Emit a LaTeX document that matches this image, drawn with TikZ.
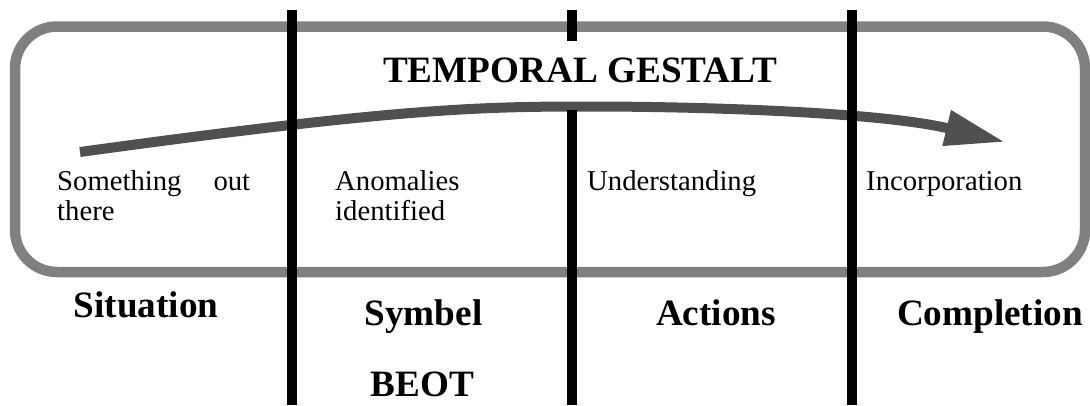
\documentclass[tikz,border=0pt]{standalone}
\usepackage{fontspec}
\setmainfont{Liberation Serif}
\usetikzlibrary{arrows.meta}
\definecolor{framegray}{HTML}{808080}
\definecolor{arrowgray}{HTML}{505050}
\tikzset{
  frame/.style={draw=framegray, line width=10.5pt, rounded corners=42pt},
  divider/.style={draw=black, line width=10.5pt},
  flow/.style={draw=arrowgray, line width=10pt, -{Triangle[length=60pt,width=34pt]}},
  smalltext/.style={anchor=base west, inner sep=0pt, font=\fontsize{28.7}{30}\selectfont},
  bigtext/.style={anchor=base, inner sep=0pt, font=\fontsize{37.2}{40}\selectfont\bfseries},
}
\begin{document}
\begin{tikzpicture}[x=1pt,y=-1pt]
\useasboundingbox (0,0) rectangle (1090,405);
% frame
\draw[frame] (15,26.5) rectangle (1085,272);
% arrow
\coordinate (a0) at (80,152);
\coordinate (a1) at (590,106.5);
\coordinate (a2) at (1005,142);
\draw[flow] (a0) .. controls (400,108) and (480,106.5) .. (a1)
   .. controls (700,106.5) and (880,112) .. (a2);
% dividers
\draw[divider] (292,10) -- (292,405);
\draw[divider] (572,10) -- (572,41);
\draw[divider] (572,110) -- (572,405);
\draw[divider] (852,10) -- (852,405);
% title
\node[bigtext] (title) at (580,82) {TEMPORAL GESTALT};
% inner texts
\node[smalltext] (t1) at (57,190) {\parbox[t]{193pt}{\fontsize{28.7}{30}\selectfont Something\hfill out\\there}};
\node[smalltext] (t2) at (335,190) {\parbox[t]{200pt}{\fontsize{28.7}{30}\selectfont Anomalies\\identified}};
\node[smalltext] (t3) at (587,190) {Understanding};
\node[smalltext] (t4) at (866,190) {Incorporation};
% bottom labels
\node[bigtext] (l1) at (146,317) {Situation};
\node[bigtext] (l2) at (423.5,325) {Symbel};
\node[bigtext] (l3) at (422.5,396) {BEOT};
\node[bigtext] (l4) at (716,325) {Actions};
\node[bigtext] (l5) at (990,325) {Completion};
\end{tikzpicture}
\end{document}
